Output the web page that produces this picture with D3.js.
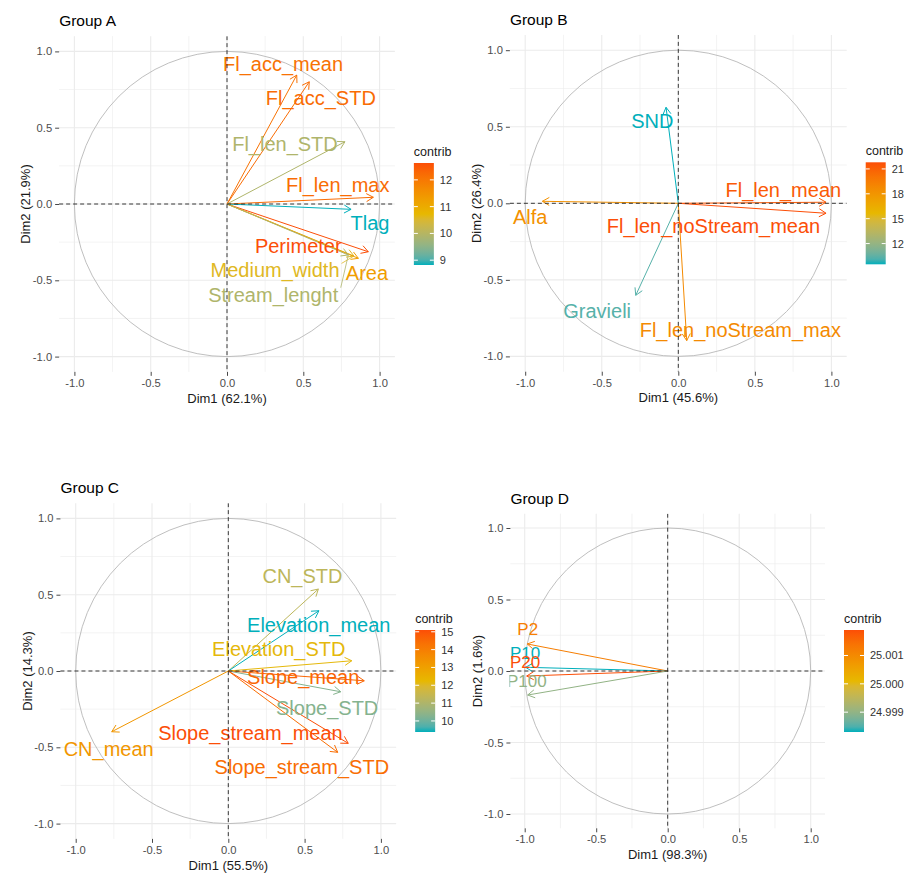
<!DOCTYPE html>
<html>
<head>
<meta charset="utf-8">
<script src="https://cdn.jsdelivr.net/npm/d3@7"></script>
<style>
  body { margin: 0; background: #fff; }
  svg { display: block; }
</style>
</head>
<body>
<svg id="chart" width="905" height="873"></svg>
<script>
// ---- Group A: variable coordinates on Dim1/Dim2 and contributions ----
const varsA = ["Fl_acc_mean", "Fl_acc_STD", "Fl_len_STD", "Fl_len_max", "Tlag", "Perimeter", "Medium_width", "Area", "Stream_lenght"];
const dim1A = [0.457, 0.539, 0.773, 0.959, 0.813, 0.926, 0.832, 0.861, 0.795];
const dim2A = [0.845, 0.801, 0.408, 0.044, -0.035, -0.313, -0.341, -0.356, -0.334];
const contribA = [12.1, 12.2, 9.9, 12.2, 8.82, 12.63, 10.6, 11.3, 9.9];

// ---- Group B ----
const varsB = ["SND", "Alfa", "Fl_len_mean", "Fl_len_noStream_mean", "Gravieli", "Fl_len_noStream_max"];
const dim1B = [-0.080, -0.888, 0.965, 0.965, -0.278, 0.055];
const dim2B = [0.627, 0.013, 0.007, -0.065, -0.601, -0.897];
const contribB = [9.5, 18.3, 21.3, 21.8, 10.3, 18.7];

// ---- Group C ----
const varsC = ["CN_STD", "Elevation_mean", "Elevation_STD", "Slope_mean", "Slope_STD", "Slope_stream_mean", "Slope_stream_STD", "CN_mean"];
const dim1C = [0.590, 0.594, 0.809, 0.891, 0.737, 0.786, 0.717, -0.764];
const dim2C = [0.537, 0.395, 0.067, -0.064, -0.136, -0.474, -0.533, -0.398];
const contribC = [11.3, 9.38, 12.2, 14.6, 10.3, 15.1, 14.4, 13.3];

// ---- Group D ----
const varsD = ["P2", "P10", "P20", "P100"];
const dim1D = [-0.982, -0.994, -0.986, -0.979];
const dim2D = [0.189, 0.026, -0.035, -0.168];
const contribD = [25.0012, 24.9983, 25.0019, 24.9990];

// ---- Text ----
const groupTitles = ["Group A", "Group B", "Group C", "Group D"];
const dim1Titles = ["Dim1 (62.1%)", "Dim1 (45.6%)", "Dim1 (55.5%)", "Dim1 (98.3%)"];
const dim2Titles = ["Dim2 (21.9%)", "Dim2 (26.4%)", "Dim2 (14.3%)", "Dim2 (1.6%)"];
const legendTitle = "contrib";

// ---- Tick values ----
const axisTicks = [-1, -0.5, 0, 0.5, 1];
const gridValues = [-1, -0.75, -0.5, -0.25, 0, 0.25, 0.5, 0.75, 1];
const legendTicksA = [9, 10, 11, 12];
const legendTicksB = [12, 15, 18, 21];
const legendTicksC = [10, 11, 12, 13, 14, 15];
const legendTicksD = [24.999, 25.000, 25.001];

// ---- Repelled label placement (in Dim1/Dim2 units) ----
const labelXA = [0.367, 0.615, 0.380, 0.726, 0.937, 0.467, 0.315, 0.917, 0.303];
const labelYA = [0.922, 0.698, 0.392, 0.128, -0.121, -0.274, -0.434, -0.454, -0.593];
const labelXB = [-0.170, -0.967, 0.686, 0.230, -0.530, 0.405];
const labelYB = [0.536, -0.089, 0.087, -0.148, -0.699, -0.823];
const labelXC = [0.486, 0.593, 0.331, 0.491, 0.648, 0.145, 0.482, -0.784];
const labelYC = [0.621, 0.303, 0.143, -0.035, -0.238, -0.402, -0.627, -0.507];
const labelXD = [-0.979, -0.997, -0.997, -0.985];
const labelYD = [0.294, 0.130, 0.065, -0.068];
const leaderA = ["Medium_width", "Stream_lenght"];

// ---- Page layout: panel centre, pixels per unit, label size ----
const layout = [
  { cx: 227.0, cy: 204.0, s: 152.6, labelSize: 20 },
  { cx: 678.3, cy: 203.3, s: 153.1, labelSize: 20 },
  { cx: 228.3, cy: 671.0, s: 152.6, labelSize: 20 },
  { cx: 667.7, cy: 671.0, s: 143.0, labelSize: 17 }
];

const gradientCols = ["#00AFBB", "#E7B800", "#FC4E07"];
const FONT = '"Liberation Sans", Arial, Helvetica, sans-serif';

const groups = [
  { names: varsA, d1: dim1A, d2: dim2A, contrib: contribA, lx: labelXA, ly: labelYA, ticks: legendTicksA, fmt: d3.format("d"), leaders: leaderA },
  { names: varsB, d1: dim1B, d2: dim2B, contrib: contribB, lx: labelXB, ly: labelYB, ticks: legendTicksB, fmt: d3.format("d"), leaders: [] },
  { names: varsC, d1: dim1C, d2: dim2C, contrib: contribC, lx: labelXC, ly: labelYC, ticks: legendTicksC, fmt: d3.format("d"), leaders: [] },
  { names: varsD, d1: dim1D, d2: dim2D, contrib: contribD, lx: labelXD, ly: labelYD, ticks: legendTicksD, fmt: d3.format(".3f"), leaders: [] }
];

const svg = d3.select("#chart").style("font-family", FONT);
svg.append("rect").attr("width", 905).attr("height", 873).attr("fill", "#fff");
const defs = svg.append("defs");
const axisFmt = d => d.toFixed(1);

groups.forEach((g, i) => {
  const L = layout[i];
  const half = 1.1 * L.s;
  const x = d3.scaleLinear().domain([-1.1, 1.1]).range([L.cx - half, L.cx + half]);
  const y = d3.scaleLinear().domain([-1.1, 1.1]).range([L.cy + half, L.cy - half]);
  const left = x(-1.1), right = x(1.1), top = y(1.1), bottom = y(-1.1);

  const [cmin, cmax] = d3.extent(g.contrib);
  const color = d3.scaleLinear()
    .domain([cmin, (cmin + cmax) / 2, cmax])
    .range(gradientCols)
    .interpolate(d3.interpolateLab);

  const rows = g.names.map((n, k) => ({
    name: n, x: g.d1[k], y: g.d2[k], c: g.contrib[k], lx: g.lx[k], ly: g.ly[k]
  }));

  const root = svg.append("g");

  // background grid
  const grid = root.append("g");
  grid.selectAll("line.gv").data(gridValues).join("line")
    .attr("x1", d => x(d)).attr("x2", d => x(d))
    .attr("y1", top).attr("y2", bottom)
    .attr("stroke", "#EBEBEB")
    .attr("stroke-width", d => Number.isInteger(d * 2) ? 1.1 : 0.6);
  grid.selectAll("line.gh").data(gridValues).join("line")
    .attr("y1", d => y(d)).attr("y2", d => y(d))
    .attr("x1", left).attr("x2", right)
    .attr("stroke", "#EBEBEB")
    .attr("stroke-width", d => Number.isInteger(d * 2) ? 1.1 : 0.6);

  // axes
  const styleAxis = a => {
    a.select(".domain").remove();
    a.selectAll(".tick line").attr("stroke", "#333").attr("stroke-width", 0.9);
    a.selectAll(".tick text").attr("fill", "#4D4D4D").style("font-size", "11.2px").style("font-family", FONT);
  };
  root.append("g").attr("transform", `translate(0,${bottom})`)
    .call(d3.axisBottom(x).tickValues(axisTicks).tickFormat(axisFmt).tickSize(4).tickPadding(3).tickSizeOuter(0))
    .call(styleAxis);
  root.append("g").attr("transform", `translate(${left},0)`)
    .call(d3.axisLeft(y).tickValues(axisTicks).tickFormat(axisFmt).tickSize(4).tickPadding(3).tickSizeOuter(0))
    .call(styleAxis);

  // axis titles and panel title
  root.append("text")
    .attr("x", x(0)).attr("y", bottom + 26).attr("dy", "0.36em")
    .attr("text-anchor", "middle").attr("fill", "#1a1a1a").style("font-size", "13px")
    .text(dim1Titles[i]);
  root.append("text")
    .attr("transform", `translate(${left - 33.5},${y(0)}) rotate(-90)`)
    .attr("dy", "0.36em")
    .attr("text-anchor", "middle").attr("fill", "#1a1a1a").style("font-size", "13px")
    .text(dim2Titles[i]);
  root.append("text")
    .attr("x", left).attr("y", top - 10)
    .attr("fill", "#000").style("font-size", "15.5px")
    .text(groupTitles[i]);

  // clipped plotting region
  const clipId = "clip" + i;
  defs.append("clipPath").attr("id", clipId)
    .append("rect").attr("x", left - 1).attr("y", top).attr("width", right - left + 1).attr("height", bottom - top);
  const panel = root.append("g").attr("clip-path", `url(#${clipId})`);

  // correlation circle
  panel.append("circle")
    .attr("cx", x(0)).attr("cy", y(0)).attr("r", x(1) - x(0))
    .attr("fill", "none").attr("stroke", "#B8B8B8").attr("stroke-width", 0.9);

  // arrows
  const headLen = 8, headAng = Math.PI / 6;
  const arrows = panel.append("g");
  rows.forEach(r => {
    const x0 = x(0), y0 = y(0), x1 = x(r.x), y1 = y(r.y);
    const ang = Math.atan2(y1 - y0, x1 - x0);
    const p1 = [x1 - headLen * Math.cos(ang - headAng), y1 - headLen * Math.sin(ang - headAng)];
    const p2 = [x1 - headLen * Math.cos(ang + headAng), y1 - headLen * Math.sin(ang + headAng)];
    arrows.append("line")
      .attr("x1", x0).attr("y1", y0).attr("x2", x1).attr("y2", y1)
      .attr("stroke", color(r.c)).attr("stroke-width", 1);
    arrows.append("path")
      .attr("d", `M${p1[0]},${p1[1]}L${x1},${y1}L${p2[0]},${p2[1]}`)
      .attr("fill", "none").attr("stroke", color(r.c)).attr("stroke-width", 1);
  });

  // labels (with leader segments where the label sits away from its arrow)
  const labelsG = panel.append("g");
  const leadersG = panel.insert("g", () => labelsG.node());
  rows.forEach(r => {
    const t = labelsG.append("text")
      .attr("x", x(r.lx)).attr("y", y(r.ly)).attr("dy", "0.36em")
      .attr("text-anchor", "middle")
      .attr("fill", color(r.c)).style("font-size", L.labelSize + "px")
      .text(r.name);
    if (g.leaders.includes(r.name)) {
      const b = t.node().getBBox();
      const pad = 2;
      const tx = x(r.x), ty = y(r.y);
      const sx = Math.max(b.x - pad, Math.min(tx, b.x + b.width + pad));
      const sy = Math.max(b.y + 4, Math.min(ty, b.y + b.height));
      leadersG.append("line")
        .attr("x1", sx).attr("y1", sy).attr("x2", tx).attr("y2", ty)
        .attr("stroke", color(r.c)).attr("stroke-width", 0.8);
    }
  });

  // dashed reference lines through the origin
  panel.append("line")
    .attr("x1", left).attr("x2", right).attr("y1", y(0)).attr("y2", y(0))
    .attr("stroke", "#222").attr("stroke-width", 0.9).attr("stroke-dasharray", "4,3");
  panel.append("line")
    .attr("x1", x(0)).attr("x2", x(0)).attr("y1", top).attr("y2", bottom)
    .attr("stroke", "#222").attr("stroke-width", 0.9).attr("stroke-dasharray", "4,3");

  // colour bar legend
  const bx = right + 19, bw = 20, bh = 102, by = L.cy - 41;
  const gradId = "grad" + i;
  const grad = defs.append("linearGradient").attr("id", gradId)
    .attr("x1", 0).attr("y1", 1).attr("x2", 0).attr("y2", 0);
  d3.range(0, 1.0001, 0.05).forEach(t => {
    grad.append("stop").attr("offset", t).attr("stop-color", color(cmin + t * (cmax - cmin)));
  });
  const leg = root.append("g");
  leg.append("text")
    .attr("x", bx).attr("y", by - 7.5)
    .attr("fill", "#1a1a1a").style("font-size", "12.5px")
    .text(legendTitle);
  leg.append("rect")
    .attr("x", bx).attr("y", by).attr("width", bw).attr("height", bh)
    .attr("fill", `url(#${gradId})`);
  const lyScale = d3.scaleLinear().domain([cmin, cmax]).range([by + bh, by]);
  g.ticks.forEach(t => {
    const yy = lyScale(t);
    leg.append("line").attr("x1", bx).attr("x2", bx + 4).attr("y1", yy).attr("y2", yy)
      .attr("stroke", "#fff").attr("stroke-width", 1);
    leg.append("line").attr("x1", bx + bw - 4).attr("x2", bx + bw).attr("y1", yy).attr("y2", yy)
      .attr("stroke", "#fff").attr("stroke-width", 1);
    leg.append("text")
      .attr("x", bx + bw + 6).attr("y", yy).attr("dy", "0.36em")
      .attr("fill", "#333").style("font-size", "11px")
      .text(g.fmt(t));
  });
});
</script>
</body>
</html>
